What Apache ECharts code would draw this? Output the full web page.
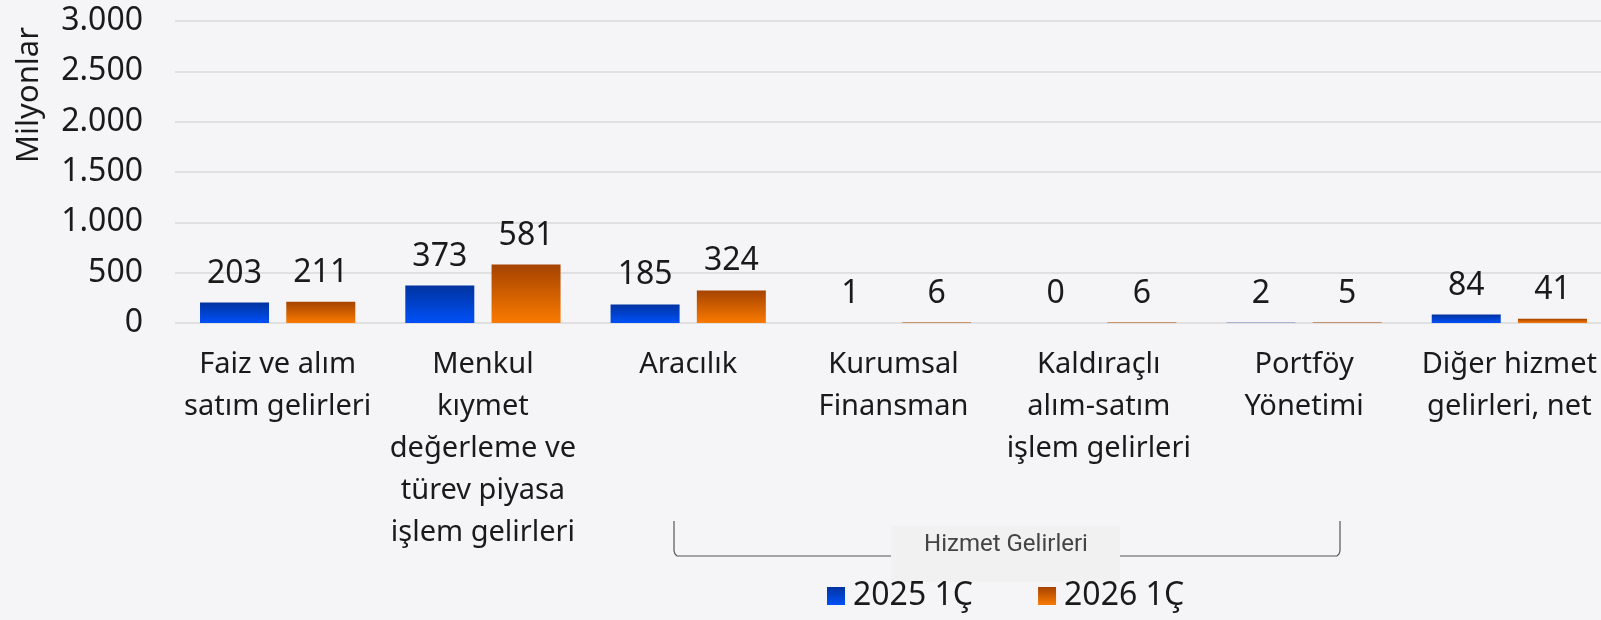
<!DOCTYPE html>
<html>
<head>
<meta charset="utf-8">
<script src="https://cdn.jsdelivr.net/npm/echarts@6/dist/echarts.min.js"></script>
<style>
  html, body { margin: 0; padding: 0; background: #f5f5f7; }
  #chart { width: 1601px; height: 620px; }
</style>
</head>
<body>
<div id="chart"></div>
<script>
const categories = [
  "Faiz ve alım\nsatım gelirleri",
  "Menkul\nkıymet\ndeğerleme ve\ntürev piyasa\nişlem gelirleri",
  "Aracılık",
  "Kurumsal\nFinansman",
  "Kaldıraçlı\nalım-satım\nişlem gelirleri",
  "Portföy\nYönetimi",
  "Diğer hizmet\ngelirleri, net"
];
const values2025 = [203, 373, 185, 1, 0, 2, 84];
const values2026 = [211, 581, 324, 6, 6, 5, 41];
const seriesNames = ["2025 1Ç", "2026 1Ç"];

const font = "Noto Sans";
const blueGrad = new echarts.graphic.LinearGradient(0, 0, 0, 1, [
  { offset: 0, color: "#0033a0" },
  { offset: 1, color: "#0050f8" }
]);
const orangeGrad = new echarts.graphic.LinearGradient(0, 0, 0, 1, [
  { offset: 0, color: "#a54300" },
  { offset: 1, color: "#fa7a00" }
]);

const chart = echarts.init(document.getElementById("chart"));

const labelStyle = {
  show: true,
  position: "top",
  distance: 13,
  fontFamily: font,
  fontSize: 32,
  color: "#1a1a1a"
};

// bracket under the "Hizmet Gelirleri" group, slightly rounded corners
const bracketPts = [
  [674, 521], [674, 551], [675, 554], [677, 556], [680, 556],
  [1334, 556], [1337, 556], [1339, 554], [1340, 551], [1340, 521]
];

chart.setOption({
  backgroundColor: "#f5f5f7",
  animation: false,
  // plot runs past the right edge of the canvas, last label gets clipped
  grid: { left: 175, width: 1437, top: 21, bottom: 297, outerBoundsMode: "none" },
  legend: {
    data: seriesNames,
    bottom: 3,
    left: 822,
    itemWidth: 18,
    itemHeight: 18,
    itemGap: 65,
    icon: "rect",
    textStyle: { fontFamily: font, fontSize: 32, color: "#1a1a1a", padding: [0, 0, 0, 3] }
  },
  xAxis: {
    type: "category",
    data: categories,
    axisLine: { show: false },
    axisTick: { show: false },
    axisLabel: {
      interval: 0,
      margin: 21,
      fontFamily: font,
      fontSize: 29,
      lineHeight: 42,
      color: "#1a1a1a"
    }
  },
  yAxis: {
    type: "value",
    min: 0,
    max: 3000,
    interval: 500,
    axisLabel: {
      margin: 32,
      fontFamily: font,
      fontSize: 32,
      color: "#1a1a1a",
      formatter: v => v.toString().replace(/\B(?=(\d{3})+(?!\d))/g, ".")
    },
    splitLine: { lineStyle: { color: "#d9d9d9", width: 1.5 } }
  },
  series: [
    {
      name: seriesNames[0],
      type: "bar",
      data: values2025,
      barWidth: 69,
      barGap: "25%",
      itemStyle: { color: blueGrad },
      label: labelStyle
    },
    {
      name: seriesNames[1],
      type: "bar",
      data: values2026,
      barWidth: 69,
      barGap: "25%",
      itemStyle: { color: orangeGrad },
      label: labelStyle
    }
  ],
  graphic: [
    {
      type: "text",
      x: 14,
      y: 163,
      rotation: Math.PI / 2,
      style: { text: "Milyonlar", fontFamily: font, fontSize: 31, fill: "#1a1a1a" }
    },
    {
      type: "polyline",
      shape: { points: bracketPts },
      style: { fill: null, stroke: "#555555", lineWidth: 1.2 }
    },
    {
      type: "rect",
      shape: { x: 891, y: 526, width: 229, height: 56 },
      style: { fill: "#f1f1f2" }
    },
    {
      type: "text",
      x: 1006,
      y: 545,
      style: {
        text: "Hizmet Gelirleri",
        fontFamily: "Roboto",
        fontSize: 24,
        fill: "#444444",
        align: "center",
        verticalAlign: "middle"
      }
    }
  ]
});
</script>
</body>
</html>
